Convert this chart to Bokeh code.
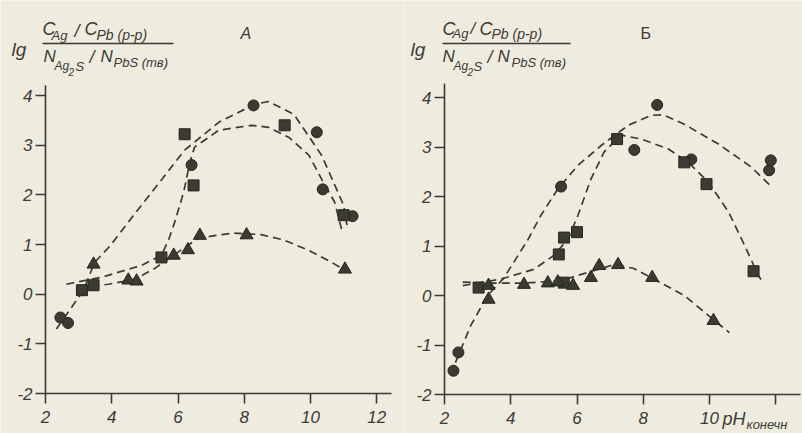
from bokeh.plotting import figure
from bokeh.layouts import row
from bokeh.models import Label, FixedTicker
from bokeh.embed import file_html
from bokeh.resources import INLINE

# ---------------- data: panel A ----------------
a_circ_x = [2.45, 2.68, 6.41, 8.28, 10.19, 10.37, 11.27]
a_circ_y = [-0.47, -0.58, 2.6, 3.8, 3.26, 2.11, 1.57]
a_sq_x = [3.1, 3.45, 5.5, 6.2, 6.47, 9.22, 11.0]
a_sq_y = [0.08, 0.18, 0.74, 3.22, 2.19, 3.4, 1.59]
a_tri_x = [3.45, 4.5, 4.75, 5.87, 6.3, 6.66, 8.07, 11.04]
a_tri_y = [0.6, 0.28, 0.26, 0.78, 0.89, 1.18, 1.19, 0.5]

a_c1_x = [2.33, 2.75, 3.15, 3.48, 3.96, 4.66, 5.5, 6.2, 7.23, 8.3, 8.73, 9.5, 10.34, 11.0, 11.1]
a_c1_y = [-0.7, -0.3, 0.08, 0.64, 0.98, 1.59, 2.3, 2.9, 3.46, 3.82, 3.88, 3.62, 2.79, 1.79, 1.39]
a_c2_x = [2.63, 3.69, 4.9, 5.5, 5.72, 5.9, 6.17, 6.36, 6.5, 7.23, 8.22, 8.73, 9.34, 9.95, 10.34, 10.73, 10.94]
a_c2_y = [0.2, 0.34, 0.58, 0.78, 1.1, 1.45, 2.05, 2.66, 2.96, 3.3, 3.4, 3.36, 3.16, 2.8, 2.31, 1.85, 1.3]
a_c3_x = [3.0, 3.9, 4.7, 5.3, 5.9, 6.6, 7.1, 7.7, 8.5, 9.2, 9.95, 10.64, 11.0]
a_c3_y = [0.12, 0.2, 0.3, 0.52, 0.8, 1.12, 1.18, 1.23, 1.2, 1.09, 0.88, 0.64, 0.5]

# ---------------- data: panel B ----------------
b_circ_x = [2.27, 2.42, 5.52, 7.73, 8.42, 9.45, 11.8, 11.85]
b_circ_y = [-1.52, -1.15, 2.2, 2.94, 3.85, 2.75, 2.53, 2.73]
b_sq_x = [3.03, 5.45, 5.6, 5.61, 6.0, 7.21, 9.24, 9.91, 11.33]
b_sq_y = [0.16, 0.83, 0.26, 1.17, 1.28, 3.16, 2.69, 2.25, 0.49]
b_tri_x = [3.33, 3.33, 4.4, 5.12, 5.42, 5.88, 6.42, 6.67, 7.24, 8.27, 10.12]
b_tri_y = [0.2, -0.08, 0.22, 0.25, 0.27, 0.2, 0.36, 0.6, 0.62, 0.36, -0.51]

b_c1_x = [2.18, 2.79, 3.3, 3.79, 4.52, 4.91, 5.42, 6.03, 6.73, 7.55, 8.24, 8.6, 9.24, 10.27, 11.27, 11.88]
b_c1_y = [-1.6, -0.61, 0.0, 0.35, 1.13, 1.62, 2.15, 2.63, 3.03, 3.44, 3.64, 3.65, 3.46, 3.06, 2.59, 2.19]
b_c2_x = [2.55, 3.7, 4.7, 5.3, 5.73, 6.03, 6.42, 6.82, 7.33, 7.94, 8.76, 9.36, 9.97, 10.58, 11.06, 11.48, 11.58]
b_c2_y = [0.2, 0.33, 0.53, 0.81, 1.14, 1.62, 2.35, 2.9, 3.24, 3.16, 2.96, 2.69, 2.29, 1.68, 1.01, 0.4, 0.3]
b_c3_x = [2.55, 3.5, 4.4, 5.5, 6.5, 7.1, 7.7, 8.24, 9.24, 10.12, 10.6]
b_c3_y = [0.27, 0.25, 0.25, 0.3, 0.5, 0.62, 0.55, 0.36, 0.0, -0.49, -0.75]

x_ticks = [2, 4, 6, 8, 10, 12]
y_ticks = [-2, -1, 0, 1, 2, 3, 4]

BG = "#eeebdf"
INK = "#3b3b34"
FONT = "Liberation Sans"
H = 433
TEXT_DY = -6  # correction of label baseline placement, px


class Panel:
    """Figure whose frame fills the whole canvas; axes pinned at x=2, y=-2."""

    def __init__(self, width, page_left, px_x2, px_per_x, py_y4, py_ym2, x_end, y_top, x_labels):
        self.px_x2 = px_x2
        self.sx = px_per_x
        self.py_y4 = py_y4
        self.sy = (py_ym2 - py_y4) / 6.0
        x0 = 2 + (page_left - px_x2) / self.sx
        x1 = 2 + (page_left + width - px_x2) / self.sx
        y1 = 4 + py_y4 / self.sy
        y0 = 4 - (H - py_y4) / self.sy
        p = figure(width=width, height=H, x_range=(x0, x1), y_range=(y0, y1),
                   output_backend="svg", toolbar_location=None,
                   min_border=0, min_border_left=0, min_border_right=0,
                   min_border_top=0, min_border_bottom=0)
        p.background_fill_color = BG
        p.border_fill_color = BG
        p.outline_line_color = None
        p.grid.visible = False
        for ax in (p.xaxis, p.yaxis):
            ax.axis_line_color = INK
            ax.axis_line_width = 1.6
            ax.major_tick_line_color = INK
            ax.major_tick_line_width = 1.6
            ax.major_tick_out = 10
            ax.major_tick_in = 0
            ax.minor_tick_out = 0
            ax.minor_tick_in = 0
            ax.major_label_text_font = FONT
            ax.major_label_text_font_style = "italic"
            ax.major_label_text_font_size = "17px"
            ax.major_label_text_color = INK
        p.xaxis.fixed_location = -2
        p.yaxis.fixed_location = 2
        p.xaxis.bounds = (2, x_end)
        p.yaxis.bounds = (-2, y_top)
        p.xaxis.ticker = FixedTicker(ticks=x_ticks)
        p.yaxis.ticker = FixedTicker(ticks=y_ticks)
        p.xaxis.major_label_standoff = 7
        p.yaxis.major_label_standoff = 3
        p.yaxis.major_label_overrides = {t: str(t) for t in y_ticks}
        p.xaxis.major_label_overrides = x_labels
        self.p = p

    def to_data(self, px, py):
        return 2 + (px - self.px_x2) / self.sx, 4 - (py - self.py_y4) / self.sy

    def txt(self, px, py, text, size, style="italic"):
        x, y = self.to_data(px, py + TEXT_DY)
        self.p.add_layout(Label(x=x, y=y, text=text, text_font=FONT, text_font_style=style,
                                text_font_size=f"{size}px", text_color=INK,
                                text_align="left", text_baseline="alphabetic"))

    def bar(self, px0, px1, py):
        xs, ys = self.to_data(px0, py)
        xe, _ = self.to_data(px1, py)
        self.p.segment(x0=[xs], y0=[ys], x1=[xe], y1=[ys], line_color=INK, line_width=1.5)

    def draw(self, cx, cy, sqx, sqy, tx, ty, curves):
        for xs, ys in curves:
            self.p.line(xs, ys, line_color=INK, line_width=1.7, line_dash="8 5")
        kw = dict(fill_color=INK, line_color="#26261f", line_width=1)
        self.p.scatter(cx, cy, marker="circle", size=11, **kw)
        self.p.scatter(sqx, sqy, marker="square", size=11, **kw)
        self.p.scatter(tx, ty, marker="triangle", size=13, **kw)


# ---------- panel A ----------
A = Panel(404, 0, 45, 33.125, 95, 393, 12.45, 4.2, {t: str(t) for t in x_ticks})
A.draw(a_circ_x, a_circ_y, a_sq_x, a_sq_y, a_tri_x, a_tri_y,
       [(a_c1_x, a_c1_y), (a_c2_x, a_c2_y), (a_c3_x, a_c3_y)])
A.txt(11, 55, "lg", 19)
A.txt(42, 34, "C", 18)
A.txt(51, 41, "Ag", 13)
A.txt(74, 36, "/", 18)
A.txt(84, 34, "C", 18)
A.txt(96, 40, "Pb (р-р)", 14)
A.bar(42, 173, 43)
A.txt(43, 62, "N", 17)
A.txt(54, 71, "Ag", 12)
A.txt(68, 77, "2", 10)
A.txt(75, 72, "S", 13)
A.txt(89, 62, "/", 18)
A.txt(100, 62, "N", 17)
A.txt(113, 68, "PbS (тв)", 13)
A.txt(240, 39, "A", 16)

# ---------- panel B ----------
B = Panel(398, 404, 444, 33.125, 97, 394, 12.75, 4.28,
          {2: "2", 4: "4", 6: "6", 8: "8", 10: "10", 12: ""})
B.draw(b_circ_x, b_circ_y, b_sq_x, b_sq_y, b_tri_x, b_tri_y,
       [(b_c1_x, b_c1_y), (b_c2_x, b_c2_y), (b_c3_x, b_c3_y)])
B.txt(410, 55, "lg", 19)
B.txt(442, 34, "C", 18)
B.txt(452, 39, "Ag", 13)
B.txt(470, 34, "/", 17)
B.txt(479, 34, "C", 18)
B.txt(491, 39, "Pb (р-р)", 14)
B.bar(442, 570, 43)
B.txt(442, 62, "N", 17)
B.txt(453, 71, "Ag", 12)
B.txt(467, 77, "2", 10)
B.txt(473, 72, "S", 13)
B.txt(487, 62, "/", 18)
B.txt(497, 62, "N", 17)
B.txt(511, 68, "PbS (тв)", 13)
B.txt(640, 39, "Б", 16, "normal")
B.txt(722, 424, "pH", 18)
B.txt(746, 430, "конечн", 13)

layout = row(A.p, B.p)
open("out.html", "w").write(file_html(layout, INLINE))
